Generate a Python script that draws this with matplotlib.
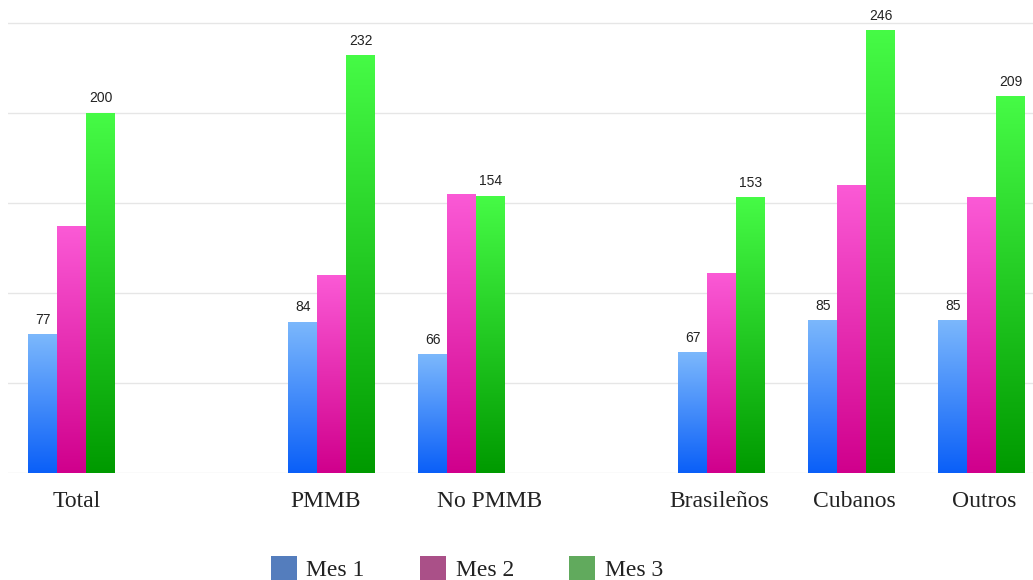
import numpy as np
import matplotlib.pyplot as plt
from matplotlib.colors import LinearSegmentedColormap
from matplotlib.patches import Patch

# data
categories = ['Total', '', 'PMMB', 'No PMMB', '', 'Brasileños', 'Cubanos', 'Outros']
series_names = ['Mes 1', 'Mes 2', 'Mes 3']
mes1 = [77, None, 84, 66, None, 67, 85, 85]
mes2 = [137, None, 110, 155, None, 111, 160, 153]
mes3 = [200, None, 232, 154, None, 153, 246, 209]
show_value = [True, False, True]

# styles
grad_colors = [('#0a5ff8', '#7cb8fc'),
               ('#d0008c', '#fb5ad6'),
               ('#009a00', '#46fb46')]
legend_colors = ['#547dbd', '#aa5088', '#61aa5d']
label_shift = [0.04, 0, -0.05, 0.21, 0, -0.02, 0.02, 0.02]

plt.rcParams['font.family'] = ['Liberation Serif', 'DejaVu Serif']

fig = plt.figure(figsize=(10.33, 5.8), dpi=100)
ax = fig.add_axes([8 / 1033, 107 / 580, 1025 / 1033, 473 / 580])

x = np.arange(len(categories))
width = 0.223
series = [mes1, mes2, mes3]

grad = np.linspace(0, 1, 256).reshape(-1, 1)
for i, vals in enumerate(series):
    cmap = LinearSegmentedColormap.from_list('g%d' % i, grad_colors[i])
    xs = [xi + (i - 1) * width for xi, v in zip(x, vals) if v is not None]
    hs = [v for v in vals if v is not None]
    bars = ax.bar(xs, hs, width=width, color='none', edgecolor='none', zorder=2)
    for b, h in zip(bars, hs):
        x0 = b.get_x()
        im = ax.imshow(grad, cmap=cmap, origin='lower', aspect='auto',
                       extent=[x0, x0 + width, 0, h], zorder=2)
        im.set_clip_path(b)
        if show_value[i]:
            ax.text(x0 + width / 2, h + 4, str(h), ha='center', va='bottom',
                    fontsize=10, family='Liberation Sans', color='#222222')

ax.set_xlim(-0.492, 7.393)
ax.set_ylim(0, 262.5)
ax.set_yticks([0, 50, 100, 150, 200, 250])
ax.set_yticklabels([])
ax.tick_params(axis='y', length=0)
ax.grid(axis='y', color='#e6e6e6', linewidth=1, zorder=0)
ax.set_axisbelow(True)

ax.set_xticks(x + np.array(label_shift))
ax.set_xticklabels(categories, fontsize=17, color='#222222')
ax.tick_params(axis='x', length=0, pad=13)

for s in ['top', 'right', 'left', 'bottom']:
    ax.spines[s].set_visible(False)

handles = [Patch(facecolor=c, edgecolor='none') for c in legend_colors]
leg = fig.legend(handles, series_names, loc='center', bbox_to_anchor=(0.452, 0.02),
                 ncol=3, frameon=False, fontsize=17, handlelength=1.1, handleheight=1.2,
                 columnspacing=2.35, handletextpad=0.4, borderpad=0)
for t in leg.get_texts():
    t.set_color('#222222')

fig.savefig('out.png', dpi=100)
